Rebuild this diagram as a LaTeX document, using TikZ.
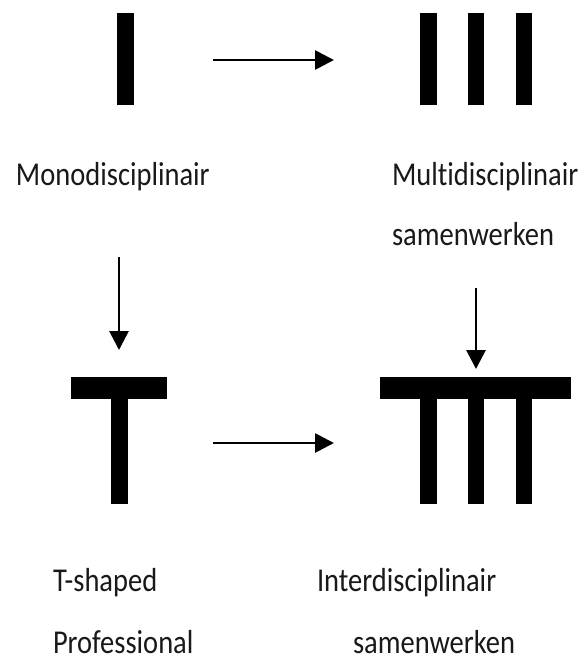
\documentclass[tikz,border=0pt]{standalone}
\usepackage{fontspec}
\setmainfont[Ligatures={NoCommon,NoContextual}]{Carlito}
\usetikzlibrary{arrows.meta}
\tikzset{
  bar/.style={fill=black, draw=none, inner sep=0pt, outer sep=0pt, anchor=north west},
  arr/.style={line width=2.8pt, -{Triangle[length=19pt,width=19pt]}},
  lbl/.style={anchor=base west, inner sep=0pt, outer sep=0pt, text=black!90,
     font=\fontsize{28.5}{30}\selectfont},
}
\newcommand{\tall}[1]{\scalebox{1}[1.17]{#1}}
\begin{document}
\begin{tikzpicture}[x=1pt,y=-1pt]
\useasboundingbox (0,0) rectangle (583,662);
% Mono
\node[bar, minimum width=16.5pt, minimum height=92pt] (mono) at (117,13) {};
% Multi
\node[bar, minimum width=16.5pt, minimum height=92pt] (multiA) at (420,13) {};
\node[bar, minimum width=16.5pt, minimum height=92pt] (multiB) at (467.5,13) {};
\node[bar, minimum width=16.5pt, minimum height=92pt] (multiC) at (515.5,13) {};
% T-shaped
\node[bar, minimum width=96pt, minimum height=22pt] (ttop) at (71,377) {};
\node[bar, minimum width=16.5pt, minimum height=127pt] (tstem) at (111,377) {};
% TTT
\node[bar, minimum width=191pt, minimum height=22pt] (itop) at (380,377) {};
\node[bar, minimum width=16.5pt, minimum height=127pt] (istemA) at (420,377) {};
\node[bar, minimum width=16.5pt, minimum height=127pt] (istemB) at (467.5,377) {};
\node[bar, minimum width=16.5pt, minimum height=127pt] (istemC) at (515.5,377) {};
% Labels
\node[lbl] (lmono) at (16,185) {\tall{Monodisciplinair}};
\node[lbl] (lmulti1) at (392,185) {\tall{Multidisciplinair}};
\node[lbl] (lmulti2) at (392,245) {\tall{samenwerken}};
\node[lbl] (lt1) at (53,591) {\tall{T-shaped}};
\node[lbl] (lt2) at (53,653) {\tall{Professional}};
\node[lbl] (li1) at (317,591) {\tall{Interdisciplinair}};
\node[lbl] (li2) at (353,653) {\tall{samenwerken}};
% Arrow end points
\coordinate (a1s) at (213,60);
\coordinate (a1e) at (334,60);
\coordinate (a2s) at (213,443);
\coordinate (a2e) at (334,443);
\coordinate (a3s) at (119,257);
\coordinate (a3e) at (119,350);
\coordinate (a4s) at (476,288);
\coordinate (a4e) at (476,369);
\draw[arr] (a1s) -- (a1e);
\draw[arr] (a2s) -- (a2e);
\draw[arr] (a3s) -- (a3e);
\draw[arr] (a4s) -- (a4e);
\end{tikzpicture}
\end{document}
